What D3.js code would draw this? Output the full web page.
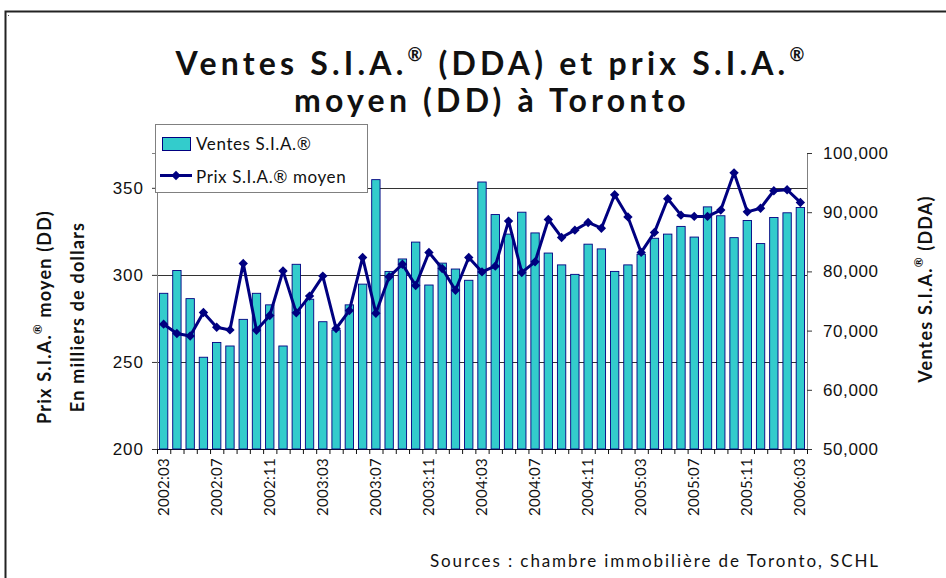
<!DOCTYPE html>
<html>
<head>
<meta charset="utf-8">
<script src="https://cdnjs.cloudflare.com/ajax/libs/d3/7.8.5/d3.min.js"></script>
<style>
  body { margin: 0; background: #fff; }
  svg { display: block; font-family: Lato, "Open Sans", sans-serif; }
</style>
</head>
<body>
<div id="chart"></div>
<script>
// monthly categories, 2002:03 .. 2006:03
const months = [
  "2002:03", "2002:04", "2002:05", "2002:06", "2002:07", "2002:08", "2002:09", "2002:10", "2002:11", "2002:12",
  "2003:01", "2003:02", "2003:03", "2003:04", "2003:05", "2003:06", "2003:07", "2003:08", "2003:09", "2003:10", "2003:11", "2003:12",
  "2004:01", "2004:02", "2004:03", "2004:04", "2004:05", "2004:06", "2004:07", "2004:08", "2004:09", "2004:10", "2004:11", "2004:12",
  "2005:01", "2005:02", "2005:03", "2005:04", "2005:05", "2005:06", "2005:07", "2005:08", "2005:09", "2005:10", "2005:11", "2005:12",
  "2006:01", "2006:02", "2006:03"
];

// Ventes S.I.A. (DDA) - bars, right axis
const sales = [
  76300, 80150, 75400, 65500, 68000, 67400, 71900, 76300, 74350, 67400,
  81200, 75300, 71500, 70100, 74350, 77850, 95500, 80000, 82100, 84950, 77700, 81400,
  80400, 78500, 95100, 89600, 86300, 90000, 86500, 83100, 81100, 79500, 84600, 83800,
  80000, 81100, 82900, 85600, 86300, 87600, 85800, 90900, 89400, 85700, 88600, 84700,
  89100, 89900, 90800
];

// Prix S.I.A. moyen (DD), en milliers de dollars - line, left axis
const prices = [
  271.7, 266.3, 264.9, 278.4, 269.9, 268.4, 306.6, 268.2, 276.7, 302.3,
  278.2, 287.8, 299.3, 269.2, 279.5, 310.0, 278.0, 298.9, 306.1, 293.9, 312.9, 303.7,
  291.2, 310.0, 301.7, 305.0, 330.9, 301.4, 307.5, 331.8, 321.5, 325.7, 330.1, 326.8,
  346.0, 333.3, 312.9, 324.4, 343.7, 334.3, 333.6, 333.6, 337.2, 358.6, 336.2, 338.3,
  348.3, 348.9, 341.6
];

const priceTicks = [200, 250, 300, 350];
const salesTicks = [50000, 60000, 70000, 80000, 90000, 100000];
const labelEvery = 4;

class ComboChart {
  constructor(_config) {
    this.config = {
      parentElement: _config.parentElement,
      containerWidth: 946,
      containerHeight: 578,
      margin: { top: 153, right: 139, bottom: 129, left: 157 },
      barColor: "#33cccc",
      lineColor: "#000080"
    };
    this.initVis();
  }

  initVis() {
    const vis = this;
    const m = vis.config.margin;
    vis.width = vis.config.containerWidth - m.left - m.right;
    vis.height = vis.config.containerHeight - m.top - m.bottom;

    vis.svg = d3.select(vis.config.parentElement).append("svg")
        .attr("width", vis.config.containerWidth)
        .attr("height", vis.config.containerHeight);

    // outer frame
    vis.svg.append("rect")
        .attr("x", 5.5).attr("y", 11.5)
        .attr("width", 960).attr("height", 600)
        .attr("fill", "none").attr("stroke", "#222").attr("stroke-width", 2);
    vis.svg.append("rect").attr("x", 8).attr("y", 15).attr("width", 1).attr("height", 1).attr("fill", "#555");

    vis.chart = vis.svg.append("g").attr("transform", `translate(${m.left},${m.top})`);

    // scales
    vis.xScale = d3.scaleBand().domain(months).range([0, vis.width])
        .paddingInner(0.37).paddingOuter(0.185);
    vis.xTicks = d3.scaleLinear().domain([0, months.length]).range([0, vis.width]);
    vis.yPrice = d3.scaleLinear().domain([200, 370]).range([vis.height, 0]);
    vis.ySales = d3.scaleLinear().domain([50000, 100000]).range([vis.height, 0]);

    vis.renderAxes();
    vis.renderVis();
    vis.renderText();
  }

  renderAxes() {
    const vis = this;

    // horizontal grid lines on price ticks
    vis.chart.append("g").attr("class", "grid")
        .selectAll("line").data(priceTicks.filter(d => d > 200)).join("line")
        .attr("x1", 0).attr("x2", vis.width)
        .attr("y1", d => Math.round(vis.yPrice(d)) + 0.5)
        .attr("y2", d => Math.round(vis.yPrice(d)) + 0.5)
        .attr("stroke", "#333").attr("stroke-width", 1);

    // left axis (price)
    const left = vis.chart.append("g")
        .call(d3.axisLeft(vis.yPrice).tickValues(priceTicks).tickSize(5).tickPadding(8));
    left.select(".domain").attr("stroke", "#808080");
    left.selectAll(".tick line").attr("stroke", "#333");
    left.selectAll("text").attr("font-size", 17).attr("letter-spacing", 1).attr("fill", "#111");

    // right axis (sales)
    const right = vis.chart.append("g").attr("transform", `translate(${vis.width},0)`)
        .call(d3.axisRight(vis.ySales).tickValues(salesTicks).tickSize(5).tickPadding(11)
            .tickFormat(d3.format(",")));
    right.select(".domain").attr("stroke", "#808080");
    right.selectAll(".tick line").attr("stroke", "#333");
    right.selectAll("text").attr("font-size", 17).attr("letter-spacing", 0.6).attr("fill", "#111");

    // bottom axis: ticks between categories
    const bottom = vis.chart.append("g").attr("transform", `translate(0,${vis.height})`)
        .call(d3.axisBottom(vis.xTicks).tickValues(d3.range(months.length + 1)).tickSize(5).tickFormat(""));
    bottom.select(".domain").attr("stroke", "#111");
    bottom.selectAll(".tick line").attr("stroke", "#111");

    // rotated month labels
    vis.chart.append("g").attr("class", "x-labels")
        .selectAll("text").data(months.filter((d, i) => i % labelEvery === 0)).join("text")
        .attr("transform", d => `translate(${vis.xScale(d) + vis.xScale.bandwidth() / 2 + 5},${vis.height + 9}) rotate(-90)`)
        .attr("text-anchor", "end")
        .attr("font-size", 15)
        .attr("letter-spacing", 0.3)
        .attr("fill", "#111")
        .text(d => d);
  }

  renderVis() {
    const vis = this;

    vis.chart.append("g").attr("class", "bars")
        .selectAll("rect").data(sales).join("rect")
        .attr("x", (d, i) => vis.xScale(months[i]))
        .attr("y", d => vis.ySales(d))
        .attr("width", vis.xScale.bandwidth())
        .attr("height", d => vis.height - vis.ySales(d))
        .attr("fill", vis.config.barColor)
        .attr("stroke", vis.config.lineColor)
        .attr("stroke-width", 0.9);

    const cx = i => vis.xScale(months[i]) + vis.xScale.bandwidth() / 2;

    const line = d3.line().x((d, i) => cx(i)).y(d => vis.yPrice(d));
    vis.chart.append("path")
        .attr("d", line(prices))
        .attr("fill", "none")
        .attr("stroke", vis.config.lineColor)
        .attr("stroke-width", 3)
        .attr("stroke-linejoin", "round");

    const diamond = d3.symbol(d3.symbolSquare, 44);
    vis.chart.append("g").attr("class", "markers")
        .selectAll("path").data(prices).join("path")
        .attr("transform", (d, i) => `translate(${cx(i)},${vis.yPrice(d)}) rotate(45)`)
        .attr("d", diamond)
        .attr("fill", vis.config.lineColor);
  }

  renderText() {
    const vis = this;
    const svg = vis.svg;
    const m = vis.config.margin;

    // title
    const title = svg.append("text")
        .attr("text-anchor", "middle")
        .attr("font-size", 32).attr("font-weight", "bold")
        .attr("letter-spacing", 4.2)
        .attr("fill", "#111");
    const t1 = title.append("tspan").attr("x", 492).attr("y", 75);
    t1.append("tspan").text("Ventes S.I.A.");
    t1.append("tspan").attr("font-size", 18).attr("dy", -14).text("®");
    t1.append("tspan").attr("dy", 14).text(" (DDA) et prix S.I.A.");
    t1.append("tspan").attr("font-size", 18).attr("dy", -14).text("®");
    title.append("tspan").attr("x", 492).attr("y", 112).text("moyen (DD) à Toronto");

    // legend
    const lg = svg.append("g").attr("transform", "translate(155,124)");
    lg.append("rect").attr("x", 0.5).attr("y", 0.5).attr("width", 212).attr("height", 68)
        .attr("fill", "#fff").attr("stroke", "#808080");
    lg.append("rect").attr("x", 7.5).attr("y", 13.5).attr("width", 28).attr("height", 13)
        .attr("fill", vis.config.barColor).attr("stroke", vis.config.lineColor);
    lg.append("line").attr("x1", 5).attr("x2", 37).attr("y1", 51.5).attr("y2", 51.5)
        .attr("stroke", vis.config.lineColor).attr("stroke-width", 3);
    lg.append("path").attr("transform", "translate(21,51.5) rotate(45)")
        .attr("d", d3.symbol(d3.symbolSquare, 44)).attr("fill", vis.config.lineColor);
    lg.selectAll("text.entry").data(["Ventes S.I.A.®", "Prix S.I.A.® moyen"]).join("text")
        .attr("class", "entry")
        .attr("x", 41).attr("y", (d, i) => 26 + i * 33)
        .attr("font-size", 17).attr("letter-spacing", 0.6).attr("fill", "#111")
        .text(d => d);

    // left axis title
    const lt = svg.append("text")
        .attr("transform", `translate(0,${m.top + vis.height / 2 + 16}) rotate(-90)`)
        .attr("text-anchor", "middle").attr("font-size", 18).attr("font-weight", "bold")
        .attr("letter-spacing", 1.2).attr("fill", "#111");
    const l1 = lt.append("tspan").attr("x", 0).attr("y", 51);
    l1.append("tspan").text("Prix S.I.A.");
    l1.append("tspan").attr("font-size", 12).attr("dy", -9).text("®");
    l1.append("tspan").attr("dy", 9).text(" moyen (DD)");
    lt.append("tspan").attr("x", 0).attr("y", 84).text("En milliers de dollars");

    // right axis title
    const rt = svg.append("text")
        .attr("transform", `translate(932,${m.top + vis.height / 2 - 12}) rotate(-90)`)
        .attr("text-anchor", "middle").attr("font-size", 18).attr("font-weight", "bold")
        .attr("letter-spacing", 1.2).attr("fill", "#111");
    rt.append("tspan").text("Ventes S.I.A.");
    rt.append("tspan").attr("font-size", 12).attr("dy", -9).text("®");
    rt.append("tspan").attr("dy", 9).text(" (DDA)");

    // source
    svg.append("text")
        .attr("x", 880).attr("y", 567)
        .attr("text-anchor", "end")
        .attr("font-size", 17).attr("letter-spacing", 1.9).attr("fill", "#111")
        .text("Sources : chambre immobilière de Toronto, SCHL");
  }
}

new ComboChart({ parentElement: "#chart" });
</script>
</body>
</html>
